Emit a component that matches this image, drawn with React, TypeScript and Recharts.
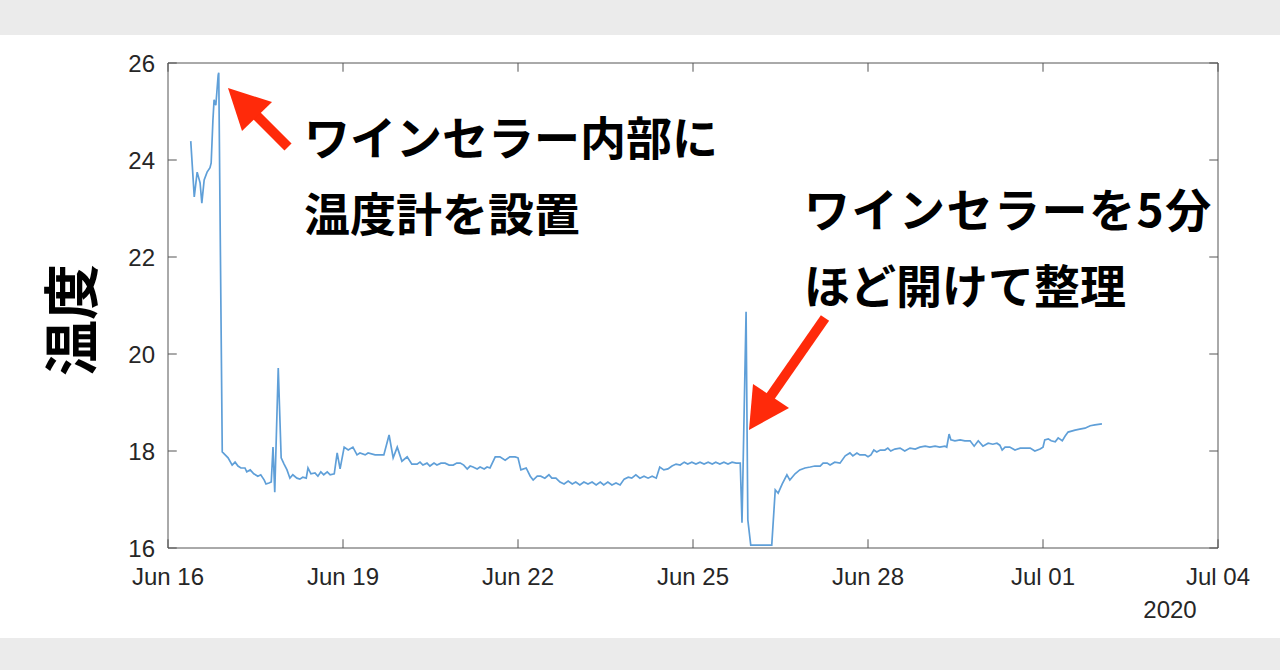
import { LineChart, Line, XAxis, YAxis, ReferenceLine } from 'recharts';

// time in days since Jun 16 00:00, temperature in °C
const days = [
  0.39, 0.45, 0.50, 0.55, 0.58, 0.62, 0.67, 0.72, 0.74, 0.77, 0.79, 0.82, 0.86, 0.87,
  0.93, 0.98, 1.03, 1.10, 1.15, 1.20, 1.25, 1.32, 1.35, 1.41, 1.47, 1.54, 1.59, 1.65,
  1.68, 1.73, 1.77, 1.80, 1.83, 1.89, 1.94, 1.99, 2.04, 2.09, 2.14, 2.21, 2.26, 2.31,
  2.37, 2.40, 2.45, 2.52, 2.57, 2.62, 2.67, 2.73, 2.78, 2.85, 2.90, 2.95, 3.02, 3.09,
  3.17, 3.24, 3.29, 3.38, 3.43, 3.55, 3.70, 3.79, 3.86, 3.93, 4.01, 4.10, 4.18, 4.27,
  4.32, 4.37, 4.44, 4.49, 4.56, 4.61, 4.68, 4.75, 4.82, 4.89, 4.95, 5.01, 5.07, 5.13,
  5.18, 5.23, 5.30, 5.35, 5.42, 5.47, 5.52, 5.61, 5.69, 5.78, 5.86, 5.95, 6.00, 6.05,
  6.14, 6.21, 6.26, 6.33, 6.39, 6.46, 6.53, 6.58, 6.65, 6.72, 6.79, 6.86, 6.93, 6.99,
  7.06, 7.13, 7.20, 7.27, 7.34, 7.41, 7.47, 7.54, 7.61, 7.68, 7.75, 7.82, 7.89, 7.95,
  8.02, 8.09, 8.16, 8.23, 8.30, 8.37, 8.43, 8.50, 8.57, 8.64, 8.71, 8.78, 8.85, 8.91,
  8.98, 9.05, 9.12, 9.19, 9.26, 9.33, 9.39, 9.46, 9.53, 9.60, 9.67, 9.74, 9.81, 9.84,
  9.91, 9.94, 9.99, 10.35, 10.41, 10.46, 10.53, 10.61, 10.66, 10.75, 10.83, 10.92, 11.01, 11.09,
  11.18, 11.23, 11.30, 11.35, 11.43, 11.52, 11.61, 11.69, 11.74, 11.81, 11.86, 11.95, 12.00, 12.05,
  12.10, 12.15, 12.21, 12.29, 12.34, 12.39, 12.46, 12.55, 12.63, 12.72, 12.81, 12.89, 12.98, 13.06,
  13.15, 13.23, 13.32, 13.35, 13.39, 13.42, 13.49, 13.58, 13.66, 13.75, 13.82, 13.89, 13.97, 14.06,
  14.14, 14.21, 14.26, 14.30, 14.35, 14.43, 14.52, 14.61, 14.69, 14.78, 14.86, 14.95, 15.00, 15.03,
  15.09, 15.14, 15.21, 15.26, 15.33, 15.38, 15.43, 15.55, 15.63, 15.72, 15.81, 15.89, 16.01,
];

const temps = [
  24.39, 23.24, 23.75, 23.53, 23.11, 23.59, 23.75, 23.84, 23.94, 24.82, 25.24, 25.13, 25.75, 25.80,
  17.98, 17.92, 17.86, 17.71, 17.77, 17.69, 17.65, 17.65, 17.57, 17.61, 17.53, 17.48, 17.51, 17.40,
  17.32, 17.34, 17.36, 18.08, 17.15, 19.71, 17.86, 17.73, 17.61, 17.44, 17.51, 17.44, 17.42, 17.46,
  17.44, 17.65, 17.53, 17.55, 17.48, 17.57, 17.51, 17.57, 17.51, 17.53, 17.96, 17.63, 18.08, 18.02,
  18.08, 17.92, 17.96, 17.92, 17.96, 17.92, 17.92, 18.33, 17.86, 18.08, 17.79, 17.88, 17.73, 17.73,
  17.77, 17.71, 17.75, 17.69, 17.75, 17.71, 17.75, 17.75, 17.71, 17.71, 17.75, 17.75, 17.71, 17.63,
  17.69, 17.67, 17.63, 17.67, 17.63, 17.67, 17.65, 17.88, 17.88, 17.81, 17.88, 17.88, 17.86, 17.61,
  17.65, 17.48, 17.40, 17.48, 17.48, 17.44, 17.51, 17.44, 17.44, 17.36, 17.32, 17.38, 17.32, 17.36,
  17.30, 17.36, 17.32, 17.36, 17.30, 17.36, 17.30, 17.36, 17.30, 17.34, 17.30, 17.42, 17.46, 17.44,
  17.51, 17.44, 17.48, 17.44, 17.48, 17.44, 17.67, 17.61, 17.63, 17.69, 17.73, 17.71, 17.77, 17.73,
  17.77, 17.73, 17.77, 17.73, 17.77, 17.73, 17.77, 17.73, 17.77, 17.73, 17.77, 17.75, 17.75, 16.52,
  20.87, 16.58, 16.06, 16.06, 17.20, 17.13, 17.32, 17.51, 17.40, 17.53, 17.61, 17.65, 17.67, 17.69,
  17.69, 17.75, 17.75, 17.71, 17.77, 17.75, 17.90, 17.96, 17.90, 17.96, 17.92, 17.92, 17.88, 17.92,
  18.02, 17.98, 18.02, 18.02, 18.06, 18.00, 18.04, 18.06, 18.00, 18.06, 18.04, 18.08, 18.10, 18.08,
  18.10, 18.08, 18.10, 18.08, 18.35, 18.23, 18.21, 18.23, 18.21, 18.21, 18.10, 18.21, 18.10, 18.16,
  18.14, 18.16, 18.12, 18.02, 18.08, 18.08, 18.02, 18.06, 18.06, 18.06, 18.00, 18.04, 18.08, 18.23,
  18.25, 18.21, 18.19, 18.27, 18.21, 18.31, 18.39, 18.43, 18.45, 18.47, 18.52, 18.54, 18.56,
];

const xTicks = [0, 3, 6, 9, 12, 15, 18];
const xTickLabels = ['Jun 16', 'Jun 19', 'Jun 22', 'Jun 25', 'Jun 28', 'Jul 01', 'Jul 04'];
const yTicks = [16, 18, 20, 22, 24, 26];

const data = days.map((d, i) => ({ t: d, temp: temps[i] }));

const X_MIN = 0, X_MAX = 18, Y_MIN = 16, Y_MAX = 26;
// inward tick lengths in data units (~8-9px)
const TICK_DX = 0.15;
const TICK_DY = 0.18;

const axisColor = '#555';
const labelFont = '"Liberation Sans", Arial, sans-serif';
const jpFont = '"Noto Sans CJK JP", "Noto Sans", sans-serif';
const arrowRed = '#ff2a0a';

const fmtX = (v: number) => xTickLabels[xTicks.indexOf(v)] ?? '';

export default function App() {
  const annot = { position: 'absolute' as const, fontFamily: jpFont, fontWeight: 700, fontSize: 46, lineHeight: '46px', color: '#000', whiteSpace: 'nowrap' as const };
  const tickStyle = { stroke: axisColor, strokeWidth: 1 };

  return (
    <div style={{ position: 'absolute', left: 0, top: 0, width: 1280, height: 670, background: '#fff', overflow: 'hidden' }}>
      <div style={{ position: 'absolute', left: 0, top: 0, width: 1280, height: 35, background: '#ebebeb' }} />
      <div style={{ position: 'absolute', left: 0, top: 638, width: 1280, height: 32, background: '#ebebeb' }} />

      <div style={{ position: 'absolute', left: 0, top: 0 }}>
        <LineChart width={1280} height={670} data={data} margin={{ top: 63, right: 62, left: 128, bottom: 92 }}>
          <XAxis
            dataKey="t"
            type="number"
            domain={[X_MIN, X_MAX]}
            ticks={xTicks}
            interval={0}
            tickFormatter={fmtX}
            height={30}
            tickLine={false}
            tickMargin={14}
            stroke={axisColor}
            tick={{ fill: '#262626', fontSize: 24, fontFamily: labelFont }}
          />
          <YAxis
            type="number"
            domain={[Y_MIN, Y_MAX]}
            ticks={yTicks}
            interval={0}
            width={40}
            tickLine={false}
            tickMargin={7}
            stroke={axisColor}
            tick={{ fill: '#262626', fontSize: 24, fontFamily: labelFont }}
          />

          {/* box: top and right edges */}
          <ReferenceLine y={Y_MAX} stroke={axisColor} />
          <ReferenceLine x={X_MAX} stroke={axisColor} />

          {/* inward ticks on all four sides */}
          {xTicks.map((t) => (
            <ReferenceLine key={`xb${t}`} segment={[{ x: t, y: Y_MIN }, { x: t, y: Y_MIN + TICK_DY }]} {...tickStyle} />
          ))}
          {xTicks.map((t) => (
            <ReferenceLine key={`xt${t}`} segment={[{ x: t, y: Y_MAX }, { x: t, y: Y_MAX - TICK_DY }]} {...tickStyle} />
          ))}
          {yTicks.map((t) => (
            <ReferenceLine key={`yl${t}`} segment={[{ x: X_MIN, y: t }, { x: X_MIN + TICK_DX, y: t }]} {...tickStyle} />
          ))}
          {yTicks.map((t) => (
            <ReferenceLine key={`yr${t}`} segment={[{ x: X_MAX, y: t }, { x: X_MAX - TICK_DX, y: t }]} {...tickStyle} />
          ))}

          <Line
            type="linear"
            dataKey="temp"
            stroke="#5f9fd8"
            strokeWidth={1.7}
            dot={false}
            isAnimationActive={false}
          />
        </LineChart>
      </div>

      {/* year under the x axis */}
      <div style={{ position: 'absolute', left: 1120, width: 100, top: 596, textAlign: 'center', fontFamily: labelFont, fontSize: 24, color: '#262626' }}>
        2020
      </div>

      {/* y axis title */}
      <div
        style={{
          position: 'absolute', left: 68 - 60, top: 320 - 28, width: 120, height: 56, lineHeight: '56px',
          textAlign: 'center', transform: 'rotate(-90deg)', fontFamily: jpFont, fontWeight: 700, fontSize: 56, color: '#000',
        }}
      >
        温度
      </div>

      {/* annotations */}
      <div style={{ ...annot, left: 304, top: 112 }}>ワインセラー内部に</div>
      <div style={{ ...annot, left: 304, top: 188 }}>温度計を設置</div>
      <div style={{ ...annot, left: 804, top: 184, letterSpacing: 1.5 }}>ワインセラーを5分</div>
      <div style={{ ...annot, left: 804, top: 260 }}>ほど開けて整理</div>

      <svg width={1280} height={670} style={{ position: 'absolute', left: 0, top: 0, pointerEvents: 'none' }}>
        <line x1={288} y1={147} x2={255} y2={114} stroke={arrowRed} strokeWidth={10} />
        <polygon points="228,88 242,131 272,102" fill={arrowRed} />
        <line x1={825} y1={318} x2={770} y2={397} stroke={arrowRed} strokeWidth={10} />
        <polygon points="749,430 753,384 789,408" fill={arrowRed} />
      </svg>
    </div>
  );
}
